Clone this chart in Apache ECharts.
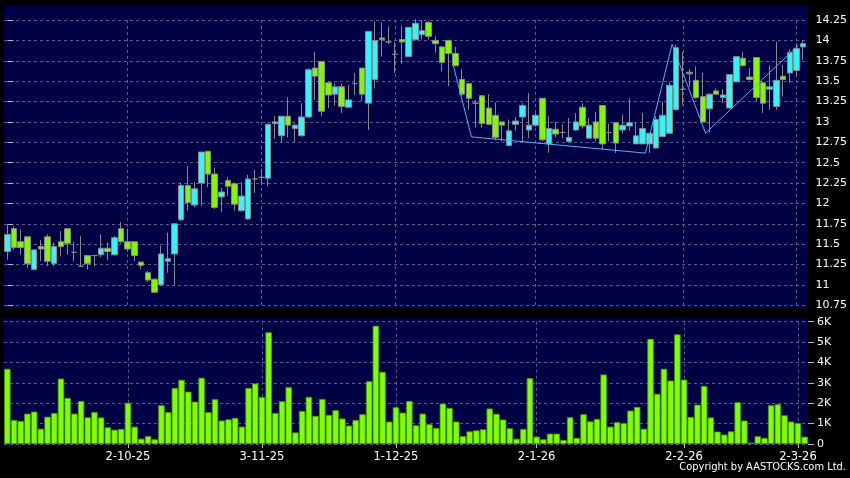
<!DOCTYPE html>
<html><head><meta charset="utf-8">
<script src="https://cdn.jsdelivr.net/npm/echarts@6/dist/echarts.min.js"></script>
<style>html,body{margin:0;padding:0;background:#000;}#c{width:850px;height:478px;}</style>
</head><body><div id="c"></div>
<script>
const opens = [11.41,11.69,11.53,11.59,11.19,11.47,11.59,11.26,11.53,11.69,11.40,11.23,11.36,11.36,11.37,11.45,11.37,11.69,11.53,11.53,11.28,11.15,11.07,11.00,11.29,11.38,11.80,12.22,11.98,12.25,12.64,12.36,12.08,12.28,12.24,11.91,11.81,12.30,12.32,12.31,12.98,12.83,13.07,12.92,12.83,13.06,13.66,13.74,13.48,13.34,13.43,13.18,13.47,13.66,13.23,13.52,14.03,13.98,13.83,14.01,13.80,14.01,14.07,14.22,14.00,13.92,14.00,13.84,13.52,13.47,13.23,13.32,13.17,13.08,13.00,12.71,12.97,13.06,12.90,12.96,13.29,12.73,12.91,12.87,12.76,12.90,13.18,12.80,13.00,13.20,12.87,12.99,12.90,12.95,12.73,12.73,12.73,12.68,12.82,12.86,13.15,13.40,13.61,13.51,13.31,13.16,13.38,13.30,13.17,13.49,13.78,13.55,13.79,13.48,13.40,13.19,13.56,13.60,13.63,13.92];
const closes = [11.62,11.46,11.46,11.26,11.43,11.44,11.29,11.47,11.47,11.51,11.40,11.23,11.26,11.36,11.45,11.41,11.58,11.53,11.44,11.36,11.24,11.06,10.91,11.38,11.32,11.75,12.22,12.01,12.18,12.63,12.36,11.95,12.14,12.21,11.99,12.09,12.30,12.30,12.32,12.97,13.00,13.07,12.96,12.96,13.06,13.64,13.56,13.13,13.33,13.43,13.19,13.27,13.47,13.34,14.11,14.00,14.01,13.98,13.83,13.98,14.16,14.21,14.12,14.05,13.96,13.73,13.84,13.69,13.34,13.29,13.23,12.98,12.97,12.81,12.96,12.89,13.01,13.20,12.96,13.08,12.78,12.92,12.85,12.87,12.81,13.00,12.95,12.96,12.80,12.73,12.87,12.74,12.96,12.99,12.83,12.92,12.86,13.03,13.08,13.45,13.91,13.40,13.59,13.30,13.00,13.34,13.34,13.33,13.58,13.80,13.69,13.52,13.30,13.23,13.43,13.51,13.52,13.85,13.90,13.96];
const lows = [11.31,11.43,11.37,11.21,11.19,11.29,11.23,11.23,11.35,11.37,11.29,11.23,11.19,11.23,11.34,11.31,11.36,11.51,11.41,11.29,11.19,11.04,10.90,10.99,11.15,10.99,11.78,11.91,11.95,11.97,12.20,11.93,11.89,12.09,11.91,11.90,11.80,12.13,12.23,12.21,12.79,12.75,12.81,12.74,12.82,13.05,13.27,13.07,13.17,13.20,13.11,13.18,13.33,13.25,12.90,13.41,13.80,13.95,13.60,13.71,13.80,14.00,14.01,14.01,13.85,13.62,13.44,13.68,13.32,13.15,12.93,12.93,12.96,12.78,12.76,12.70,12.89,12.76,12.80,12.94,12.76,12.62,12.81,12.80,12.76,12.89,12.92,12.80,12.76,12.66,12.76,12.62,12.86,12.89,12.73,12.73,12.62,12.67,12.81,12.86,13.14,13.21,13.43,13.28,12.99,12.87,13.34,13.23,13.16,13.49,13.68,13.51,13.26,13.11,13.15,13.15,13.31,13.48,13.56,13.76];
const highs = [11.74,11.72,11.68,11.59,11.43,11.55,11.62,11.52,11.66,11.69,11.53,11.60,11.36,11.37,11.62,11.52,11.60,11.77,11.69,11.53,11.28,11.17,11.08,11.48,11.64,11.75,12.26,12.46,12.26,12.63,12.64,12.44,12.19,12.32,12.26,12.26,12.35,12.41,12.42,12.98,13.07,13.07,13.30,12.98,13.23,13.66,13.86,13.74,13.49,13.47,13.47,13.45,13.60,13.66,14.11,14.23,14.22,14.17,13.98,14.18,14.16,14.26,14.25,14.24,14.05,13.93,14.00,13.92,13.65,13.48,13.27,13.33,13.34,13.24,13.00,13.03,13.06,13.23,13.35,13.11,13.29,13.07,13.00,12.97,13.05,13.11,13.23,13.05,13.12,13.20,12.98,12.99,13.09,13.29,12.99,13.11,12.87,13.07,13.25,13.49,13.95,13.86,13.65,13.68,13.60,13.35,13.41,13.40,13.58,13.80,13.86,13.66,13.79,13.49,13.69,13.98,13.70,13.89,13.96,14.00];
const volumesK = [3.69,1.18,1.13,1.49,1.59,0.75,1.34,1.52,3.21,2.26,1.49,2.11,1.31,1.57,1.30,0.82,0.70,0.74,2.02,0.85,0.26,0.39,0.23,1.90,1.56,2.75,3.15,2.57,2.08,3.25,
1.56,2.20,1.15,1.21,1.28,0.85,2.75,2.97,2.31,5.48,1.52,2.10,2.79,0.57,1.62,2.31,1.38,2.21,1.43,1.66,1.25,0.90,1.18,1.46,3.08,5.80,3.54,1.10,1.80,1.54,2.11,
0.92,1.49,0.97,0.79,1.98,1.77,1.10,0.39,0.62,0.67,0.72,1.74,1.48,1.20,0.77,0.26,0.74,3.23,0.36,0.23,0.51,0.51,0.20,1.31,0.30,1.46,1.11,1.23,3.41,0.85,
1.07,1.02,1.64,1.82,0.75,5.16,2.46,3.69,3.11,5.38,3.16,1.33,1.93,2.85,1.30,0.61,0.46,0.62,2.05,1.15,0.07,0.38,0.30,1.90,1.95,1.41,1.10,1.02,0.36];
const zigzagX = [66.7, 69.4, 95.4, 99.4, 104.4, 118.3];
const zigzagY = [13.69, 12.816, 12.617, 13.952, 12.861, 13.94];
const xTickIndex = [18, 38, 58, 79, 101, 118];
const xTickLabels = ['2-10-25', '3-11-25', '1-12-25', '2-1-26', '2-2-26', '2-3-26'];
const priceTicks = {min: 10.75, max: 14.25, interval: 0.25};
const volTicks = {min: 0, max: 6, interval: 1};

const categories = opens.map((_, i) => String(i));
const candleData = opens.map((o, i) => [o, closes[i], lows[i], highs[i]]);
const zigzag = zigzagX.map((x, i) => [x, zigzagY[i]]);
const isTick = (idx) => xTickIndex.indexOf(idx) >= 0;

const NAVY = '#000044';
const GRIDC = '#5c5c90';
const FONT = 'DejaVu Sans';

const chart = echarts.init(document.getElementById('c'), null, {renderer: 'canvas'});
chart.setOption({
  animation: false,
  backgroundColor: '#000000',
  graphic: [
    {type: 'rect', z: -10, shape: {x: 4, y: 6, width: 804, height: 301}, style: {fill: NAVY}},
    {type: 'rect', z: -10, shape: {x: 4, y: 318, width: 804, height: 126}, style: {fill: NAVY}},
    {type: 'text', right: 4, top: 462, style: {text: 'Copyright by AASTOCKS.com Ltd.', fill: '#ffffff', font: '11px "DejaVu Sans Condensed", "DejaVu Sans"'}}
  ],
  grid: [
    {left: 4, width: 804, top: 20, height: 285.3},
    {left: 4, width: 804, top: 321.7, height: 122.3}
  ],
  xAxis: [
    {type: 'category', gridIndex: 0, data: categories, boundaryGap: true,
     axisLine: {show: false}, axisTick: {show: false, alignWithLabel: true, interval: isTick}, axisLabel: {show: false, interval: isTick},
     splitLine: {show: true, interval: isTick, alignWithLabel: true, lineStyle: {color: GRIDC, type: [3, 3], width: 1}}},
    {type: 'category', gridIndex: 1, data: categories, boundaryGap: true,
     axisLine: {show: false},
     axisTick: {show: true, alignWithLabel: true, interval: isTick, length: 4, lineStyle: {color: '#bbbbbb'}},
     axisLabel: {show: true, interval: isTick, margin: 7, color: '#ffffff', fontFamily: FONT, fontSize: 11.5,
       formatter: (v, idx) => { const k = xTickIndex.indexOf(idx); return k >= 0 ? xTickLabels[k] : ''; }},
     splitLine: {show: true, interval: isTick, alignWithLabel: true, lineStyle: {color: GRIDC, type: [3, 3], width: 1}}},
    {type: 'value', gridIndex: 0, min: -0.5, max: opens.length - 0.5, show: false}
  ],
  yAxis: [
    {type: 'value', gridIndex: 0, position: 'right', min: priceTicks.min, max: priceTicks.max, interval: priceTicks.interval,
     axisLine: {show: false}, axisTick: {show: true, length: 6, lineStyle: {color: '#bbbbbb'}},
     axisLabel: {color: '#ffffff', fontFamily: FONT, fontSize: 11, margin: 9, formatter: (v) => String(v)},
     splitLine: {show: true, lineStyle: {color: GRIDC, type: [3, 3], width: 1}}},
    {type: 'value', gridIndex: 1, position: 'right', min: volTicks.min, max: volTicks.max, interval: volTicks.interval,
     axisLine: {show: false}, axisTick: {show: true, length: 6, lineStyle: {color: '#bbbbbb'}},
     axisLabel: {color: '#ffffff', fontFamily: FONT, fontSize: 11, margin: 9, formatter: (v) => v === 0 ? '0' : v + 'K'},
     splitLine: {show: true, lineStyle: {color: GRIDC, type: [3, 3], width: 1}}}
  ],
  series: [
    {type: 'candlestick', xAxisIndex: 0, yAxisIndex: 0, data: candleData, barWidth: 6, clip: false,
     itemStyle: {color: '#33F4F8', color0: '#80F800', borderColor: '#8a8a8a', borderColor0: '#8a8a8a', borderColorDoji: '#8a8a8a', borderWidth: 1}},
    {type: 'line', xAxisIndex: 2, yAxisIndex: 0, data: zigzag, symbol: 'none', z: 5,
     lineStyle: {color: '#5AB0F0', width: 1}},
    {type: 'bar', xAxisIndex: 1, yAxisIndex: 1, data: volumesK, barWidth: 6.4,
     itemStyle: {color: '#80FF00', borderColor: '#4c9a00', borderWidth: 0.8}}
  ]
});
</script></body></html>
